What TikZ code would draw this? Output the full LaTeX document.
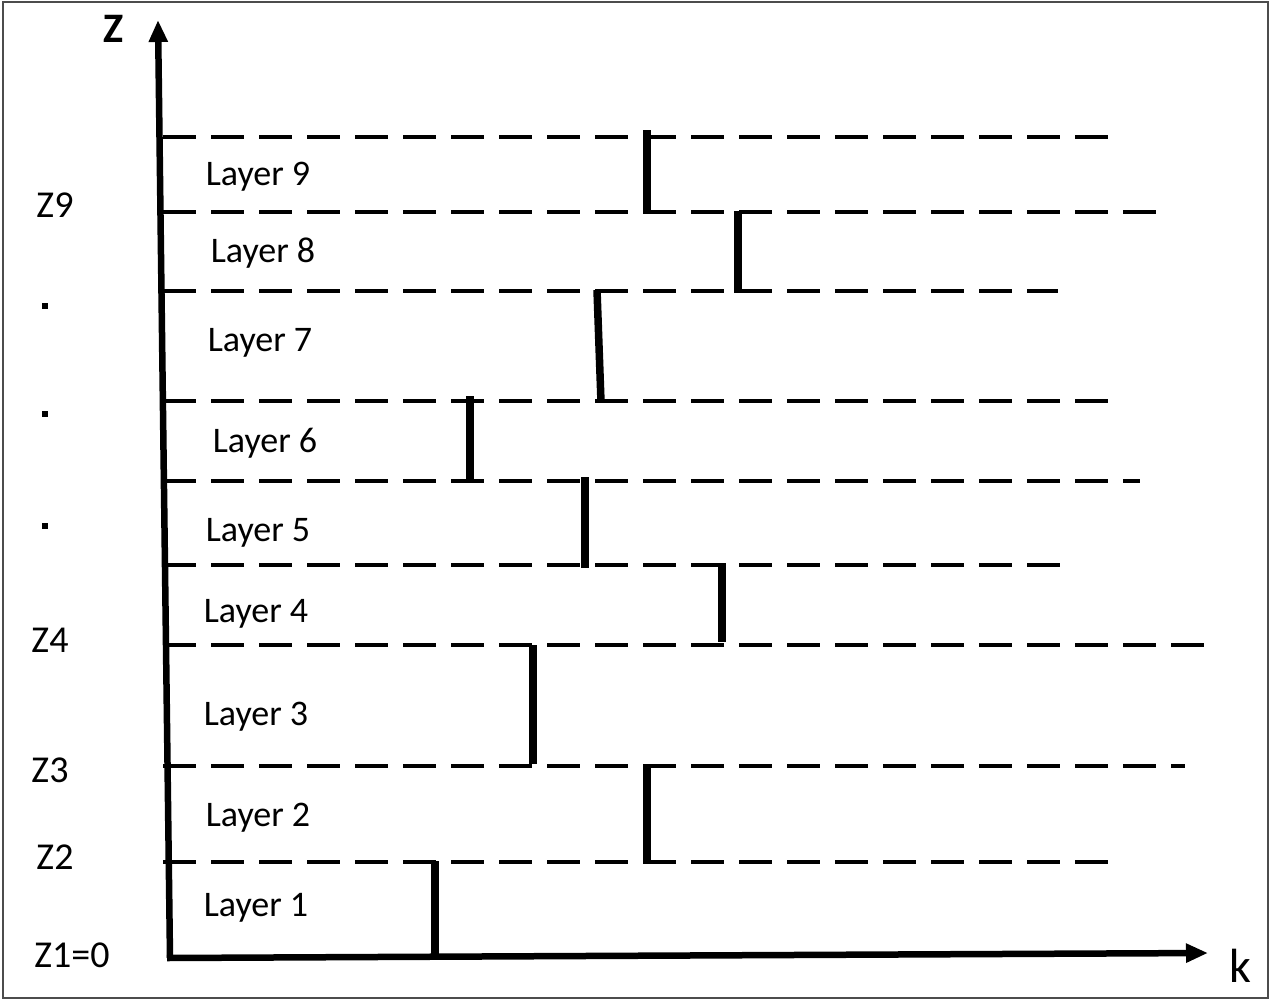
\documentclass[tikz,border=0pt]{standalone}
\usepackage{fontspec}
\setmainfont{Carlito}
\usetikzlibrary{arrows.meta}
\begin{document}
\begin{tikzpicture}[x=1pt,y=-1pt,
  axis/.style={line width=6.5pt,-{Triangle[length=22pt,width=18pt]}},
  iface/.style={line width=4.6pt,dash pattern=on 33pt off 15pt},
  depth/.style={line width=7.5pt},
  layertext/.style={font=\fontsize{36}{40}\selectfont,inner sep=0pt},
  ztext/.style={font=\fontsize{38}{42}\selectfont,inner sep=0pt},
  dotmark/.style={fill=black,minimum size=6pt,inner sep=0pt,draw=none,rectangle}]
  \useasboundingbox (0,0) rectangle (1274,1001);
  \draw[line width=1.5pt,black!70] (3,2) rectangle (1268,998);

  % axes
  \coordinate (origin) at (170,958);
  \coordinate (ztop) at (158,20);
  \coordinate (kend) at (1208,953);
  \draw[axis] (origin) -- (ztop);
  \draw[axis] ([xshift=-3pt]origin) -- (kend);
  \node[font=\bfseries\fontsize{42}{46}\selectfont,inner sep=0pt] (zlab) at (114,29) {Z};
  \node[font=\fontsize{48}{52}\selectfont,inner sep=0pt] (klab) at (1240,966) {k};

  % layer interfaces (dashed)
  \foreach \n/\y/\xe in {i10/137/1110, i9/212/1168, i8/291/1058, i7/401/1112,
                          i6/481/1140, i5/565/1065, i4/645/1212, i3/766/1185, i2/862/1122}{
    \coordinate (\n s) at (163,\y);
    \coordinate (\n e) at (\xe,\y);
    \draw[iface] (\n s) -- (\n e);
  }

  % thickness bars
  \draw[depth] (647,130) -- (647,214);
  \draw[depth] (738,211) -- (738,293);
  \draw[depth] (597,290) -- (601,402);
  \draw[depth] (470,396) -- (470,483);
  \draw[depth] (585,477) -- (585,568);
  \draw[depth] (722,563) -- (722,642);
  \draw[depth] (533,645) -- (533,764);
  \draw[depth] (647,766) -- (647,863);
  \draw[depth] (435,861) -- (435,957);

  % layer names
  \node[layertext] (l9) at (258,177) {Layer 9};
  \node[layertext] (l8) at (263,253) {Layer 8};
  \node[layertext] (l7) at (260,343) {Layer 7};
  \node[layertext] (l6) at (265,443) {Layer 6};
  \node[layertext] (l5) at (258,533) {Layer 5};
  \node[layertext] (l4) at (256,614) {Layer 4};
  \node[layertext] (l3) at (256,717) {Layer 3};
  \node[layertext] (l2) at (258,818) {Layer 2};
  \node[layertext] (l1) at (256,908) {Layer 1};

  % depth labels
  \node[ztext] (z9) at (55,205) {Z9};
  \node[dotmark] (d1) at (45,306) {};
  \node[dotmark] (d2) at (45,414) {};
  \node[dotmark] (d3) at (45,526) {};
  \node[ztext] (z4) at (50,640) {Z4};
  \node[ztext] (z3) at (50,770) {Z3};
  \node[ztext] (z2) at (55,857) {Z2};
  \node[ztext] (z1) at (72,955) {Z1=0};
\end{tikzpicture}
\end{document}
